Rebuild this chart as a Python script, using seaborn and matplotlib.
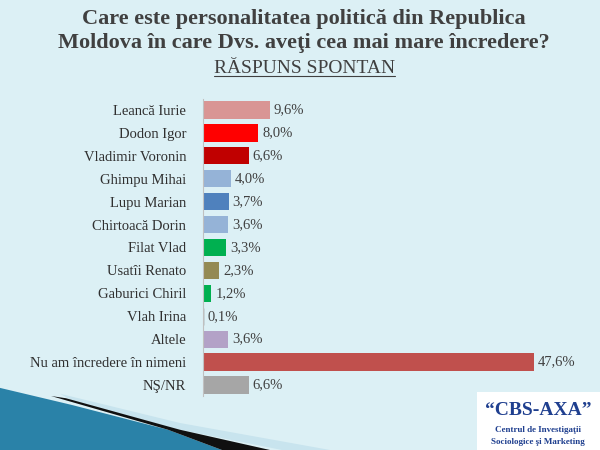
import matplotlib
matplotlib.use("Agg")
import matplotlib.pyplot as plt
from matplotlib.patches import Polygon
import seaborn as sns

categories = ["Leancă Iurie", "Dodon Igor", "Vladimir Voronin", "Ghimpu Mihai",
              "Lupu Marian", "Chirtoacă Dorin", "Filat Vlad", "Usatîi Renato",
              "Gaburici Chiril", "Vlah Irina", "Altele", "Nu am încredere în nimeni",
              "NŞ/NR"]
values = [9.6, 8.0, 6.6, 4.0, 3.7, 3.6, 3.3, 2.3, 1.2, 0.1, 3.6, 47.6, 6.6]
colors = ["#d99594", "#ff0000", "#c00000", "#95b3d7", "#4f81bd", "#95b3d7",
          "#00b050", "#948a54", "#00b050", "#d9d9d9", "#b3a2c7", "#c0504d",
          "#a6a6a6"]

bg = "#dcf0f5"
sns.set_theme(style="white")
plt.rcParams["font.family"] = ["Liberation Serif", "DejaVu Serif"]

fig = plt.figure(figsize=(6, 4.5), dpi=100, facecolor=bg)

# decorative swoosh bottom-left
fig.patches.append(Polygon([(0.10, 0.125), (0.30, 0.06), (0.55, 0), (0.47, 0),
                            (0.30, 0.045), (0.12, 0.11)],
                           closed=True, transform=fig.transFigure,
                           facecolor="#c8e4ee", edgecolor="none", zorder=0))
fig.patches.append(Polygon([(0, 0), (0, 0.138), (0.12, 0.10), (0.28, 0.045), (0.37, 0)],
                           closed=True, transform=fig.transFigure,
                           facecolor="#2a82a8", edgecolor="none", zorder=0))
fig.patches.append(Polygon([(0.085, 0.12), (0.28, 0.045), (0.37, 0), (0.45, 0),
                            (0.30, 0.045), (0.11, 0.115)],
                           closed=True, transform=fig.transFigure,
                           facecolor="#101010", edgecolor="none", zorder=0))

ax = fig.add_axes([0.338, 0.119, 0.637, 0.662])
ax.set_facecolor("none")

sns.barplot(x=values, y=categories, hue=categories, palette=colors,
            legend=False, orient="h", width=0.75, saturation=1, ax=ax,
            edgecolor="#707070", linewidth=0)
ax.patches[9].set_linewidth(1.0)

for i, v in enumerate(values):
    ax.text(v + 0.6, i, f"{v:.1f}%".replace(".", ","), va="center", ha="left",
            fontsize=10.5, color="#404040")

ax.set_xlim(0, 55)
ax.set_ylim(12.5, -0.5)
ax.set_xticks([])
ax.tick_params(axis="y", length=0, labelsize=10.5, labelcolor="#303030", pad=12)
ax.set_yticks([i - 0.5 for i in range(14)], minor=True)
ax.tick_params(axis="y", which="minor", length=3, color="#a0a0a0", direction="out")
for s in ["top", "right", "bottom"]:
    ax.spines[s].set_visible(False)
ax.spines["left"].set_color("#c0c0c0")
ax.spines["left"].set_linewidth(0.8)
ax.set_xlabel("")
ax.set_ylabel("")

fig.text(0.507, 0.958, "Care este personalitatea politică din Republica",
         ha="center", va="center", fontsize=16, fontweight="bold", color="#404040")
fig.text(0.507, 0.904, "Moldova în care Dvs. aveţi cea mai mare încredere?",
         ha="center", va="center", fontsize=16, fontweight="bold", color="#404040")
t = fig.text(0.507, 0.847, "RĂSPUNS SPONTAN", ha="center", va="center",
             fontsize=14, color="#404040")
fig.canvas.draw()
bb = t.get_window_extent().transformed(fig.transFigure.inverted())
fig.add_artist(plt.Line2D([bb.x0, bb.x1], [bb.y0 + 0.002, bb.y0 + 0.002],
                          transform=fig.transFigure, color="#404040", linewidth=0.8))

# logo
fig.patches.append(plt.Rectangle((0.795, 0.0), 0.205, 0.13, transform=fig.transFigure,
                                 facecolor="white", edgecolor="none", zorder=1))
fig.text(0.897, 0.087, "“CBS-AXA”", ha="center", va="center", fontsize=14,
         fontweight="bold", color="#1f3f8f")
fig.text(0.897, 0.044, "Centrul de Investigaţii", ha="center", va="center",
         fontsize=6.5, fontweight="bold", color="#1f3f8f")
fig.text(0.897, 0.017, "Sociologice şi Marketing", ha="center", va="center",
         fontsize=6.5, fontweight="bold", color="#1f3f8f")

fig.savefig("out.png", dpi=100, facecolor=bg)
